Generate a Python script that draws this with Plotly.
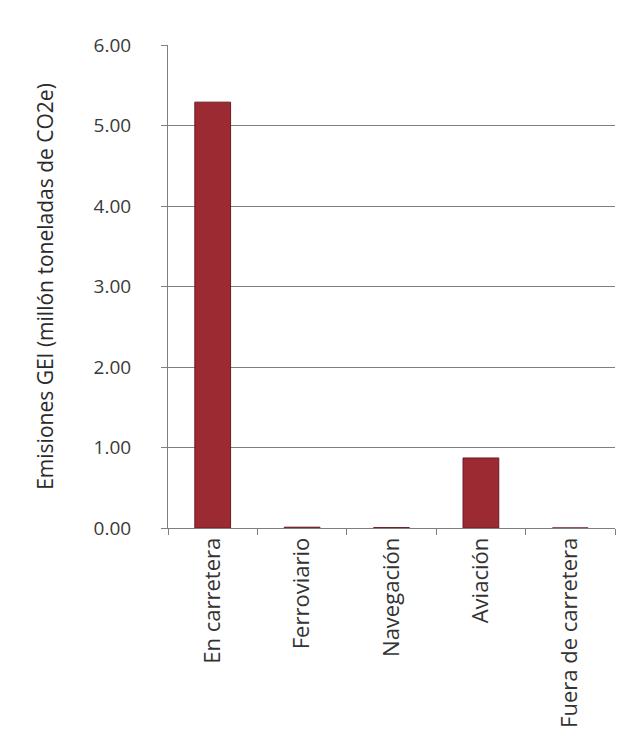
import plotly.graph_objects as go

categories = ["En carretera", "Ferroviario", "Navegación", "Aviación", "Fuera de carretera"]
values = [5.29, 0.01, 0.005, 0.87, 0.0]
y_ticks = [0, 1, 2, 3, 4, 5, 6]
y_tick_labels = ["0.00", "1.00", "2.00", "3.00", "4.00", "5.00", "6.00"]

fig = go.Figure(go.Bar(
    x=categories, y=values,
    marker=dict(color="#9b2a33", line=dict(color="#6e1a22", width=1)),
    width=0.4,
))

fig.update_layout(
    width=630, height=741,
    margin=dict(l=168, r=15, t=45, b=213),
    paper_bgcolor="white", plot_bgcolor="white",
    font=dict(family="Open Sans, Arial, sans-serif", size=16, color="#333333"),
    showlegend=False,
)
fig.update_yaxes(
    range=[0, 6], tickvals=y_ticks, ticktext=y_tick_labels,
    showgrid=True, gridcolor="#7f7f7f", gridwidth=1,
    showline=True, linecolor="#7f7f7f", linewidth=1,
    ticks="outside", ticklen=6, tickcolor="#7f7f7f",
    ticklabelstandoff=26,
    tickfont=dict(size=19, color="#3a3a3a"),
    title=dict(text="Emisiones GEI (millón toneladas de CO2e)",
               font=dict(size=21, color="#2a2a2a"), standoff=34),
    zeroline=False,
)
fig.update_xaxes(
    tickangle=-90, showline=True, linecolor="#7f7f7f", linewidth=1,
    ticks="outside", ticklen=6, tickcolor="#7f7f7f",
    tickson="boundaries",
    tickfont=dict(size=22, color="#333333"),
)

fig.write_html("out.html")
